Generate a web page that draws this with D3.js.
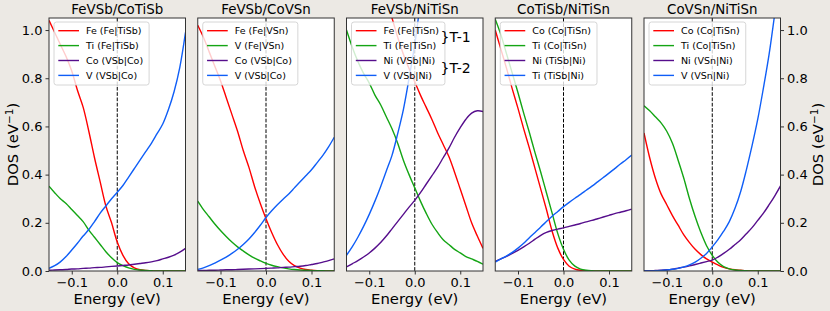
<!DOCTYPE html>
<html><head><meta charset="utf-8">
<script src="https://cdn.jsdelivr.net/npm/d3@7/dist/d3.min.js"></script>
<style>
body{margin:0;background:#ece9e4;}
svg{display:block;}
text{font-family:"DejaVu Sans",sans-serif;fill:#000;}
</style></head>
<body><svg id="chart" width="830" height="311"></svg>
<script>
// ---------- data ----------
const energy = [-0.15,-0.1375,-0.125,-0.1125,-0.1,-0.0875,-0.075,-0.0625,-0.05,-0.0375,-0.025,-0.0125,0,
                0.0125,0.025,0.0375,0.05,0.0625,0.075,0.0875,0.1,0.1125,0.125,0.1375,0.15];

const titles = ["FeVSb/CoTiSb","FeVSb/CoVSn","FeVSb/NiTiSn","CoTiSb/NiTiSn","CoVSn/NiTiSn"];

const labels1 = ["Fe (Fe|TiSb)","Ti (Fe|TiSb)","Co (VSb|Co)","V (VSb|Co)"];
const labels2 = ["Fe (Fe|VSn)","V (Fe|VSn)","Co (VSb|Co)","V (VSb|Co)"];
const labels3 = ["Fe (Fe|TiSn)","Ti (Fe|TiSn)","Ni (VSb|Ni)","V (VSb|Ni)"];
const labels4 = ["Co (Co|TiSn)","Ti (Co|TiSn)","Ni (TiSb|Ni)","Ti (TiSb|Ni)"];
const labels5 = ["Co (Co|TiSn)","Ti (Co|TiSn)","Ni (VSn|Ni)","V (VSn|Ni)"];

// panel 1: FeVSb/CoTiSb
const p1Red    = [1.04,0.99,0.94,0.89,0.83,0.75,0.68,0.58,0.47,0.37,0.27,0.20,0.12,0.065,0.03,0.013,0.005,0.002,0.001,0,0,0,0,0,0];
const p1Green  = [0.352,0.325,0.30,0.28,0.255,0.23,0.205,0.17,0.14,0.11,0.08,0.055,0.035,0.022,0.013,0.007,0.004,0.002,0.001,0,0,0,0,0,0];
const p1Purple = [0.003,0.004,0.005,0.006,0.008,0.009,0.011,0.012,0.014,0.015,0.017,0.019,0.021,0.023,0.025,0.028,0.031,0.034,0.038,0.043,0.05,0.057,0.066,0.078,0.094];
const p1Blue   = [0.011,0.022,0.038,0.06,0.087,0.115,0.145,0.172,0.205,0.24,0.27,0.30,0.327,0.355,0.39,0.425,0.46,0.495,0.53,0.57,0.61,0.67,0.745,0.845,0.99];

// panel 2: FeVSb/CoVSn
const p2Red    = [1.02,0.97,0.91,0.85,0.79,0.72,0.65,0.58,0.50,0.43,0.35,0.28,0.217,0.16,0.11,0.07,0.04,0.022,0.012,0.006,0.003,0.001,0,0,0];
const p2Green  = [0.29,0.255,0.225,0.195,0.168,0.143,0.12,0.10,0.083,0.067,0.053,0.042,0.032,0.024,0.018,0.013,0.009,0.006,0.004,0.003,0.002,0.001,0.001,0,0];
const p2Purple = [0.002,0.002,0.003,0.003,0.004,0.005,0.005,0.006,0.007,0.008,0.009,0.010,0.011,0.012,0.013,0.015,0.016,0.018,0.02,0.023,0.027,0.031,0.037,0.043,0.05];
const p2Blue   = [0.007,0.013,0.022,0.033,0.045,0.058,0.073,0.09,0.11,0.133,0.16,0.19,0.222,0.25,0.275,0.298,0.32,0.345,0.37,0.395,0.42,0.45,0.48,0.515,0.555];

// panel 3: FeVSb/NiTiSn
const p3Red    = [null,null,null,null,null,null,null,1.12,1.05,0.97,0.90,0.84,0.785,0.73,0.68,0.63,0.575,0.525,0.475,0.41,0.34,0.27,0.20,0.145,0.094];
const p3Green  = [1.0,0.93,0.87,0.82,0.78,0.73,0.69,0.64,0.59,0.53,0.46,0.40,0.345,0.29,0.24,0.195,0.16,0.13,0.11,0.09,0.075,0.06,0.05,0.04,0.028];
const p3Purple = [0.017,0.03,0.043,0.058,0.075,0.095,0.118,0.145,0.175,0.205,0.235,0.265,0.293,0.325,0.36,0.395,0.43,0.47,0.51,0.555,0.595,0.63,0.655,0.665,0.662];
const p3Blue   = [0.065,0.10,0.14,0.185,0.235,0.29,0.35,0.415,0.48,0.57,0.67,0.80,0.94,1.12,null,null,null,null,null,null,null,null,null,null,null];

// panel 4: CoTiSb/NiTiSn
const p4Red    = [1.0,0.92,0.84,0.755,0.675,0.59,0.51,0.425,0.34,0.255,0.165,0.095,0.048,0.02,0.008,0.003,0.001,0,0,0,0,0,0,0,0];
const p4Green  = [1.045,0.98,0.90,0.82,0.74,0.655,0.575,0.49,0.41,0.325,0.24,0.155,0.09,0.045,0.02,0.008,0.003,0.001,0,0,0,0,0,0,0];
const p4Purple = [0.04,0.05,0.061,0.073,0.086,0.10,0.115,0.132,0.148,0.16,0.168,0.174,0.179,0.185,0.191,0.197,0.204,0.21,0.217,0.224,0.231,0.238,0.244,0.25,0.257];
const p4Blue   = [0.037,0.05,0.063,0.077,0.095,0.115,0.138,0.16,0.183,0.205,0.227,0.247,0.267,0.285,0.302,0.318,0.335,0.352,0.37,0.388,0.406,0.425,0.444,0.462,0.481];

// panel 5: CoVSn/NiTiSn
const p5Red    = [0.573,0.47,0.385,0.32,0.275,0.23,0.19,0.15,0.118,0.09,0.068,0.05,0.037,0.025,0.015,0.009,0.005,0.003,0.001,0,0,0,0,0,0];
const p5Green  = [0.686,0.665,0.64,0.615,0.58,0.53,0.46,0.385,0.30,0.225,0.16,0.105,0.065,0.036,0.018,0.009,0.004,0.002,0.001,0,0,0,0,0,0];
const p5Purple = [0.001,0.001,0.002,0.003,0.005,0.008,0.012,0.016,0.021,0.027,0.033,0.039,0.045,0.058,0.073,0.09,0.11,0.13,0.155,0.18,0.21,0.24,0.275,0.312,0.353];
const p5Blue   = [0,0,0.001,0.002,0.004,0.007,0.011,0.017,0.025,0.037,0.053,0.073,0.10,0.13,0.165,0.205,0.26,0.33,0.42,0.52,0.63,0.76,0.90,1.07,null];

const xTicks = [-0.1, 0.0, 0.1];
const yTicks = [0, 0.2, 0.4, 0.6, 0.8, 1.0];
const seriesColors = ["#ff0000","#14a514","#560e8c","#0f5ef7"];

const panels = [
  {title:titles[0], labels:labels1, series:[p1Red,p1Green,p1Purple,p1Blue]},
  {title:titles[1], labels:labels2, series:[p2Red,p2Green,p2Purple,p2Blue]},
  {title:titles[2], labels:labels3, series:[p3Red,p3Green,p3Purple,p3Blue]},
  {title:titles[3], labels:labels4, series:[p4Red,p4Green,p4Purple,p4Blue]},
  {title:titles[4], labels:labels5, series:[p5Red,p5Green,p5Purple,p5Blue]}
];

// ---------- layout ----------
const svg = d3.select("#chart");
const W = 136.5, H = 253, topY = 18, left0 = 49, step = 148.75;
const x = d3.scaleLinear().domain([-0.15, 0.15]).range([0, W]);
const y = d3.scaleLinear().domain([0, 1.05]).range([H, 0]);
const fmtX = d => (d < 0 ? "\u2212" : "") + Math.abs(d).toFixed(1);
const fmtY = d => d.toFixed(1);

const line = d3.line()
  .defined(d => d[1] != null)
  .x(d => x(d[0])).y(d => y(d[1]))
  .curve(d3.curveCatmullRom.alpha(0.5));

panels.forEach((p, i) => {
  const g = svg.append("g").attr("transform", `translate(${left0 + i*step},${topY})`);
  g.append("rect").attr("width", W).attr("height", H).attr("fill", "#fff");

  g.append("clipPath").attr("id", "clip" + i)
    .append("rect").attr("width", W).attr("height", H);
  const plot = g.append("g").attr("clip-path", `url(#clip${i})`);

  plot.append("line")
    .attr("x1", x(0)).attr("x2", x(0)).attr("y1", 0).attr("y2", H)
    .attr("stroke", "#000").attr("stroke-width", 1).attr("stroke-dasharray", "3.7,1.6");

  p.series.forEach((s, k) => {
    plot.append("path")
      .datum(energy.map((e, j) => [e, s[j]]))
      .attr("d", line)
      .attr("fill", "none")
      .attr("stroke", seriesColors[k])
      .attr("stroke-width", 1.4);
  });

  const lg = g.append("g").attr("transform", "translate(5,4)");
  const box = lg.append("rect").attr("rx", 2.5).attr("ry", 2.5)
    .attr("fill", "#fff").attr("fill-opacity", 0.8)
    .attr("stroke", "#cccccc").attr("stroke-width", 0.8);
  let maxW = 0;
  p.labels.forEach((lab, k) => {
    const yy = 8.7 + k * 14.9;
    lg.append("line").attr("x1", 4.3).attr("x2", 25).attr("y1", yy).attr("y2", yy)
      .attr("stroke", seriesColors[k]).attr("stroke-width", 1.4);
    const t = lg.append("text").attr("x", 32).attr("y", yy).attr("dy", "0.35em")
      .attr("font-size", "9.5px").text(lab);
    maxW = Math.max(maxW, t.node().getComputedTextLength());
  });
  box.attr("width", 32 + maxW + 6).attr("height", 63);

  g.append("rect").attr("width", W).attr("height", H)
    .attr("fill", "none").attr("stroke", "#333").attr("stroke-width", 1);

  const xa = g.append("g").attr("transform", `translate(0,${H})`)
    .call(d3.axisBottom(x).tickValues(xTicks).tickFormat(fmtX).tickSize(3.5).tickPadding(3));
  xa.select(".domain").remove();
  xa.selectAll("text").attr("font-size", "13px").attr("font-family", "DejaVu Sans");
  xa.selectAll("line").attr("stroke", "#333");

  g.append("text").attr("x", W/2).attr("y", H + 33).attr("text-anchor", "middle")
    .attr("font-size", "14.8px").text("Energy (eV)");

  g.append("text").attr("x", W/2).attr("y", -4).attr("text-anchor", "middle")
    .attr("font-size", "13.4px").text(p.title);

  if (i === 0 || i === 4) {
    const ax = i === 0 ? d3.axisLeft(y) : d3.axisRight(y);
    const ya = g.append("g").attr("transform", `translate(${i === 0 ? 0 : W},0)`)
      .call(ax.tickValues(yTicks).tickFormat(fmtY).tickSize(3.5).tickPadding(3));
    ya.select(".domain").remove();
    ya.selectAll("text").attr("font-size", "13px").attr("font-family", "DejaVu Sans");
    ya.selectAll("line").attr("stroke", "#333");
    const lx = i === 0 ? -31 : W + 42.5;
    const yl = g.append("text").attr("transform", `translate(${lx},${H/2}) rotate(-90)`)
      .attr("text-anchor", "middle").attr("font-size", "14.8px");
    yl.append("tspan").text("DOS (eV");
    yl.append("tspan").attr("font-size", "10.5px").attr("dy", "-5").text("\u22121");
    yl.append("tspan").attr("dy", "5").text(")");
  }

  if (i === 2) {
    g.append("text").attr("x", 94).attr("y", 24).attr("font-size", "14px").text("}T-1");
    g.append("text").attr("x", 94).attr("y", 55).attr("font-size", "14px").text("}T-2");
  }
});
</script>
</body></html>
